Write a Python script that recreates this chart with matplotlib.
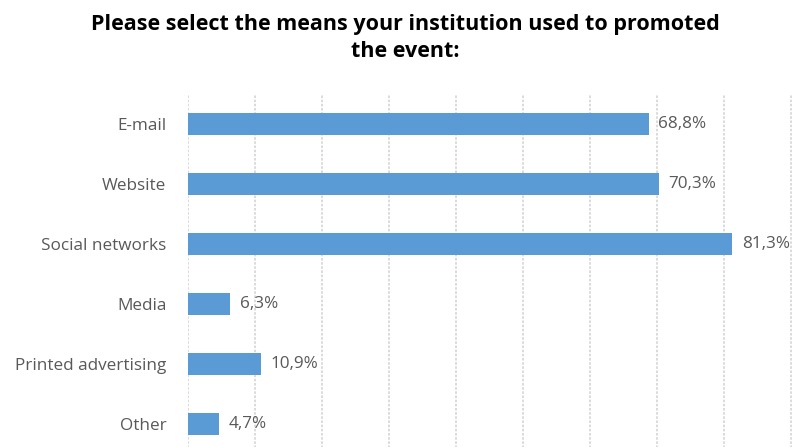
import matplotlib.pyplot as plt

categories = ["E-mail", "Website", "Social networks", "Media", "Printed advertising", "Other"]
values = [68.8, 70.3, 81.3, 6.3, 10.9, 4.7]
labels = ["68,8%", "70,3%", "81,3%", "6,3%", "10,9%", "4,7%"]

plt.rcParams["font.family"] = ["Open Sans", "DejaVu Sans"]

fig = plt.figure(figsize=(7.98, 4.47), dpi=100)
ax = fig.add_axes([0.2356, -0.0157, 0.7594, 0.8054])

ypos = range(len(categories))
ax.barh(ypos, values, height=0.37, color="#5b9bd5", zorder=3)
for y, v, lab in zip(ypos, values, labels):
    ax.text(v + 1.4, y, lab, va="center", ha="left", fontsize=12.3, color="#595959")

ax.set_yticks(list(ypos))
ax.set_yticklabels(categories, fontsize=12.3, color="#595959")
ax.set_ylim(len(categories) - 0.5, -0.5)
ax.set_xlim(0, 90.5)
ax.set_xticks(range(0, 91, 10))
ax.tick_params(axis="x", bottom=False, labelbottom=False)
ax.tick_params(axis="y", left=False, pad=12)
ax.grid(axis="x", color="#d4d4d4", linestyle=(0, (1.5, 1)), linewidth=1.2, zorder=0)
for s in ax.spines.values():
    s.set_visible(False)

fig.text(0.508, 0.968, "Please select the means your institution used to promoted\nthe event:",
         ha="center", va="top", fontsize=15.5, fontweight="bold", color="#000000",
         linespacing=1.35)

fig.savefig("out.png", dpi=100)
